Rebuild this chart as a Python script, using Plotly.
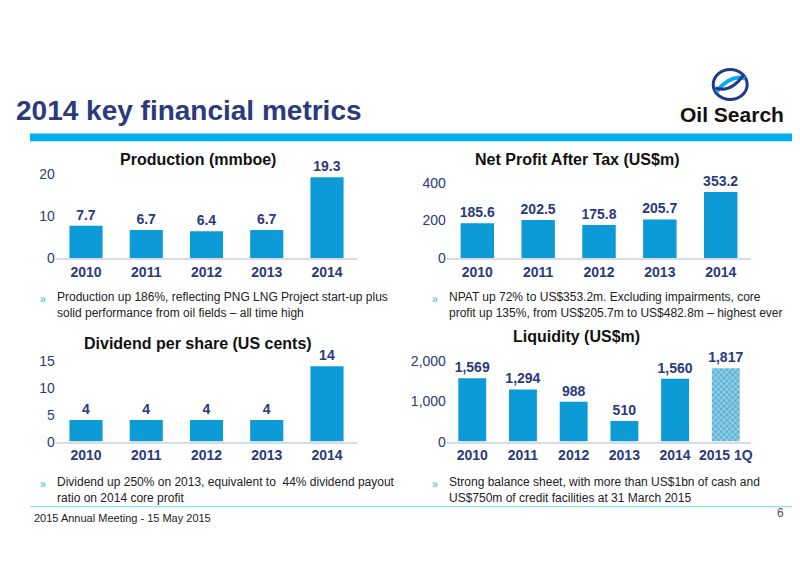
import plotly.graph_objects as go

years = ["2010", "2011", "2012", "2013", "2014"]
production = [7.7, 6.7, 6.4, 6.7, 19.3]
npat = [185.6, 202.5, 175.8, 205.7, 353.2]
dividend = [4, 4, 4, 4, 14]
liq_years = ["2010", "2011", "2012", "2013", "2014", "2015 1Q"]
liquidity = [1569, 1294, 988, 510, 1560, 1817]

NAVY = "#2B3A7A"
BLUE = "#0C9BD7"
FONT = "Liberation Sans, Arial"

fig = go.Figure()

def W(px): return px / 800
def H(px): return 1 - px / 566

panels = [
    (production, years, ["%.1f" % v for v in production], [0, 20], [0, 10, 20], [48, 350], [163, 249], "Production (mmboe)", 190, 1),
    (npat, years, ["%.1f" % v for v in npat], [0, 400], [0, 200, 400], [440, 745], [172, 249], "Net Profit After Tax (US$m)", 570, 2),
    (dividend, years, [str(v) for v in dividend], [0, 15], [0, 5, 10, 15], [48, 350], [355, 438], "Dividend per share (US cents)", 190, 3),
    (liquidity, liq_years, ["{:,}".format(v) for v in liquidity], [0, 2000], [0, 1000, 2000], [440, 745], [355, 438], "Liquidity (US$m)", 570, 4),
]
title_y = {1: 148, 2: 148, 3: 337, 4: 330}

for vals, cats, txt, rng, tv, xpx, ypx, title, tx, i in panels:
    xa = "x" if i == 1 else "x%d" % i
    ya = "y" if i == 1 else "y%d" % i
    if i == 4:
        colors = [BLUE] * 5 + ["#7FD0F0"]
        pattern = dict(shape=[""] * 5 + ["x"], fgcolor="#3BB3E6", size=4, solidity=0.3)
    else:
        colors = BLUE
        pattern = None
    fig.add_trace(go.Bar(x=cats, y=vals, text=["<b>%s</b>" % t for t in txt], textposition="outside",
                         constraintext="none",
                         textfont=dict(color=NAVY, size=14, family=FONT),
                         marker=dict(color=colors, pattern=pattern, line_width=0),
                         width=0.55, cliponaxis=False, xaxis=xa, yaxis=ya, showlegend=False))
    k = "" if i == 1 else str(i)
    fig.layout["xaxis" + k] = dict(domain=[W(xpx[0]), W(xpx[1])], anchor=ya, showline=True,
                                   linecolor="#D9DDE3", linewidth=2, ticks="",
                                   tickprefix="<b>", ticksuffix="</b>",
                                   tickfont=dict(color=NAVY, size=14, family=FONT))
    fig.layout["yaxis" + k] = dict(domain=[H(ypx[1]), H(ypx[0])], anchor=xa, range=rng, tickvals=tv,
                                   tickformat=",", showgrid=False, zeroline=False,
                                   tickprefix="<b>", ticksuffix="</b>",
                                   tickfont=dict(color=NAVY, size=14, family=FONT))
    fig.add_annotation(text="<b>%s</b>" % title, x=W(tx), xanchor="center",
                       y=H(title_y[i]), xref="paper", yref="paper",
                       yanchor="middle", showarrow=False, font=dict(size=16, color="#111", family=FONT))

notes = [
    (30, 280, "Production up 186%, reflecting PNG LNG Project start-up plus<br>solid performance from oil fields – all time high"),
    (423, 280, "NPAT up 72% to US$353.2m. Excluding impairments, core<br>profit up 135%, from US$205.7m to US$482.8m – highest ever"),
    (30, 470, "Dividend up 250% on 2013, equivalent to  44% dividend payout<br>ratio on 2014 core profit"),
    (423, 470, "Strong balance sheet, with more than US$1bn of cash and<br>US$750m of credit facilities at 31 March 2015"),
]
for x, y, t in notes:
    fig.add_annotation(text="»", x=W(x), y=H(y), xref="paper", yref="paper", xanchor="left", yanchor="top",
                       showarrow=False, font=dict(size=12, color="#3BB3E6"))
    fig.add_annotation(text=t, x=W(x + 17), y=H(y), xref="paper", yref="paper", xanchor="left", yanchor="top",
                       align="left", showarrow=False, font=dict(size=12, color="#222", family=FONT))

fig.add_annotation(text="<b>2014 key financial metrics</b>", x=W(6), y=H(97), xref="paper", yref="paper",
                   xanchor="left", yanchor="middle", showarrow=False,
                   font=dict(size=28, color=NAVY, family=FONT))
fig.add_annotation(text="<b>Oil Search</b>", x=W(780), y=H(101), xref="paper", yref="paper",
                   xanchor="right", yanchor="middle", showarrow=False,
                   font=dict(size=21, color="#111", family=FONT))
fig.add_shape(type="circle", xref="paper", yref="paper", x0=W(707), x1=W(741), y0=H(86), y1=H(55),
              line=dict(color="#1F3A8A", width=3), fillcolor="#FFFFFF")
fig.add_shape(type="path", xref="paper", yref="paper",
              path="M %f %f Q %f %f %f %f" % (W(710), H(78), W(724), H(60), W(739), H(64)),
              line=dict(color="#00AEEF", width=4))
fig.add_shape(type="path", xref="paper", yref="paper",
              path="M %f %f Q %f %f %f %f" % (W(709), H(74), W(724), H(80), W(738), H(60)),
              line=dict(color="#1F3A8A", width=3))
fig.add_shape(type="rect", xref="paper", yref="paper", x0=W(22), x1=W(786), y0=H(129), y1=H(121),
              line_width=0, fillcolor="#00AEEF")
fig.add_shape(type="line", xref="paper", yref="paper", x0=W(22), x1=W(786), y0=H(505), y1=H(505),
              line=dict(color="#7FD0F0", width=1))
fig.add_annotation(text="2015 Annual Meeting - 15 May 2015", x=W(24), y=H(517), xref="paper", yref="paper",
                   xanchor="left", yanchor="middle", showarrow=False,
                   font=dict(size=11, color="#222", family=FONT))
fig.add_annotation(text="6", x=W(780), y=H(511), xref="paper", yref="paper",
                   xanchor="right", yanchor="middle", showarrow=False,
                   font=dict(size=12, color="#555", family=FONT))

fig.update_layout(width=800, height=566, margin=dict(l=0, r=0, t=0, b=0),
                  plot_bgcolor="white", paper_bgcolor="white", bargap=0.4)
fig.write_html("out.html")
